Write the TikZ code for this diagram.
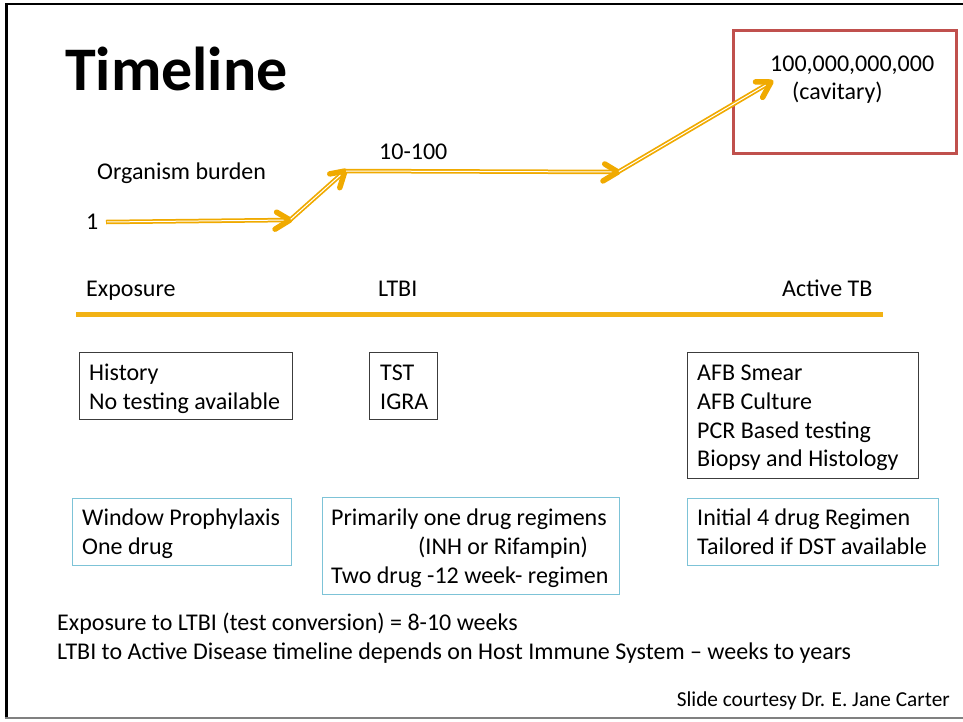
\documentclass[tikz,border=0pt]{standalone}
\usepackage{fontspec}
\setmainfont{Carlito}
\usetikzlibrary{arrows.meta,decorations.markings}
\definecolor{amber}{RGB}{240,170,0}
\definecolor{barcol}{RGB}{242,178,20}
\definecolor{redbox}{RGB}{192,80,77}
\definecolor{bluebox}{RGB}{125,195,215}
\definecolor{greybox}{RGB}{60,60,60}
\tikzset{
  txt/.style={anchor=base west, inner sep=0pt, font=\fontsize{24}{29}\selectfont},
  smalltxt/.style={anchor=base east, inner sep=0pt, font=\fontsize{21.3}{25}\selectfont},
  titletxt/.style={anchor=base west, inner sep=0pt, font=\fontsize{62}{70}\selectfont\bfseries},
  blackbox/.style={draw=greybox, line width=1pt, anchor=north west, inner sep=0pt},
  bluebx/.style={draw=bluebox, line width=1.2pt, anchor=north west, inner sep=0pt},
  burden/.style={draw=amber, line width=4.5pt, shorten >=2pt,
    postaction={draw=white, line width=1pt, shorten >=5pt, shorten <=1pt},
    postaction={decorate, decoration={markings, mark=at position 1 with {
      \draw[amber, line width=5.5pt, line cap=round, line join=round]
        (-15pt,-9pt) -- (0pt,0pt) -- (-15pt,9pt);}}}},
}
\begin{document}
\begin{tikzpicture}[x=1pt,y=-1pt]
\useasboundingbox (0,0) rectangle (963,721);
% slide frame
\draw[black, line width=2pt] (6,4) -- (963,4);
\draw[black, line width=3pt] (6,3) -- (6,718);
\draw[gray, line width=2pt] (5,718) -- (963,718);

\node[titletxt] (title) at (65,90) {Timeline};

% organism burden
\node[txt] (ob) at (97,179) {Organism burden};
\node[txt] (one) at (86,229) {1};
\node[txt] (ten) at (379,159) {10-100};
\node[draw=redbox, line width=3pt, anchor=north west, inner sep=0pt,
      minimum width=223pt, minimum height=123pt] (redb) at (732,29) {};
\node[txt] (big) at (770,71) {100,000,000,000};
\node[txt] (cav) at (792,99) {(cavitary)};

\coordinate (c1) at (106,222);
\coordinate (c2) at (290,220);
\coordinate (c3) at (345,171);
\coordinate (c4) at (618,172);
\coordinate (c5) at (771,82);
\draw[burden] (c1) -- (c2);
\draw[burden] (c2) -- (c3);
\draw[burden] (c3) -- (c4);
\draw[burden] (c4) -- (c5);

% timeline bar
\node[txt] (exp) at (86,296) {Exposure};
\node[txt] (ltbi) at (378,296) {LTBI};
\node[txt] (atb) at (782,296) {Active TB};
\coordinate (b1) at (76,314);
\coordinate (b2) at (883,314);
\draw[barcol, line width=5pt] (b1) -- (b2);

% testing boxes
\node[blackbox, minimum width=213pt, minimum height=67pt] (histbox) at (79,352) {};
\node[txt] (h1) at (89,380) {History};
\node[txt] (h2) at (89,409) {No testing available};

\node[blackbox, minimum width=68pt, minimum height=67pt] (tstbox) at (369,352) {};
\node[txt] (s1) at (380,380) {TST};
\node[txt] (s2) at (380,409) {IGRA};

\node[blackbox, minimum width=231pt, minimum height=126pt] (afbbox) at (687,352) {};
\node[txt] (a1) at (697,380) {AFB Smear};
\node[txt] (a2) at (697,409) {AFB Culture};
\node[txt] (a3) at (697,438) {PCR Based testing};
\node[txt] (a4) at (697,466) {Biopsy and Histology};

% treatment boxes
\node[bluebx, minimum width=219pt, minimum height=67pt] (winbox) at (72,498) {};
\node[txt] (w1) at (82,525) {Window Prophylaxis};
\node[txt] (w2) at (82,554) {One drug};

\node[bluebx, minimum width=297pt, minimum height=97pt] (primbox) at (322,497) {};
\node[txt] (p1) at (331,525) {Primarily one drug regimens};
\node[txt] (p2) at (418,554) {(INH or Rifampin)};
\node[txt] (p3) at (331,583) {Two drug -12 week- regimen};

\node[bluebx, minimum width=251pt, minimum height=67pt] (inibox) at (687,498) {};
\node[txt] (i1) at (697,525) {Initial 4 drug Regimen};
\node[txt] (i2) at (697,554) {Tailored if DST available};

% notes
\node[txt] (n1) at (57,630) {Exposure to LTBI (test conversion) = 8-10 weeks};
\node[txt] (n2) at (57,659) {LTBI to Active Disease timeline depends on Host Immune System – weeks to years};
\node[smalltxt] (credit) at (950,706) {Slide courtesy Dr. E. Jane Carter};
\end{tikzpicture}
\end{document}
